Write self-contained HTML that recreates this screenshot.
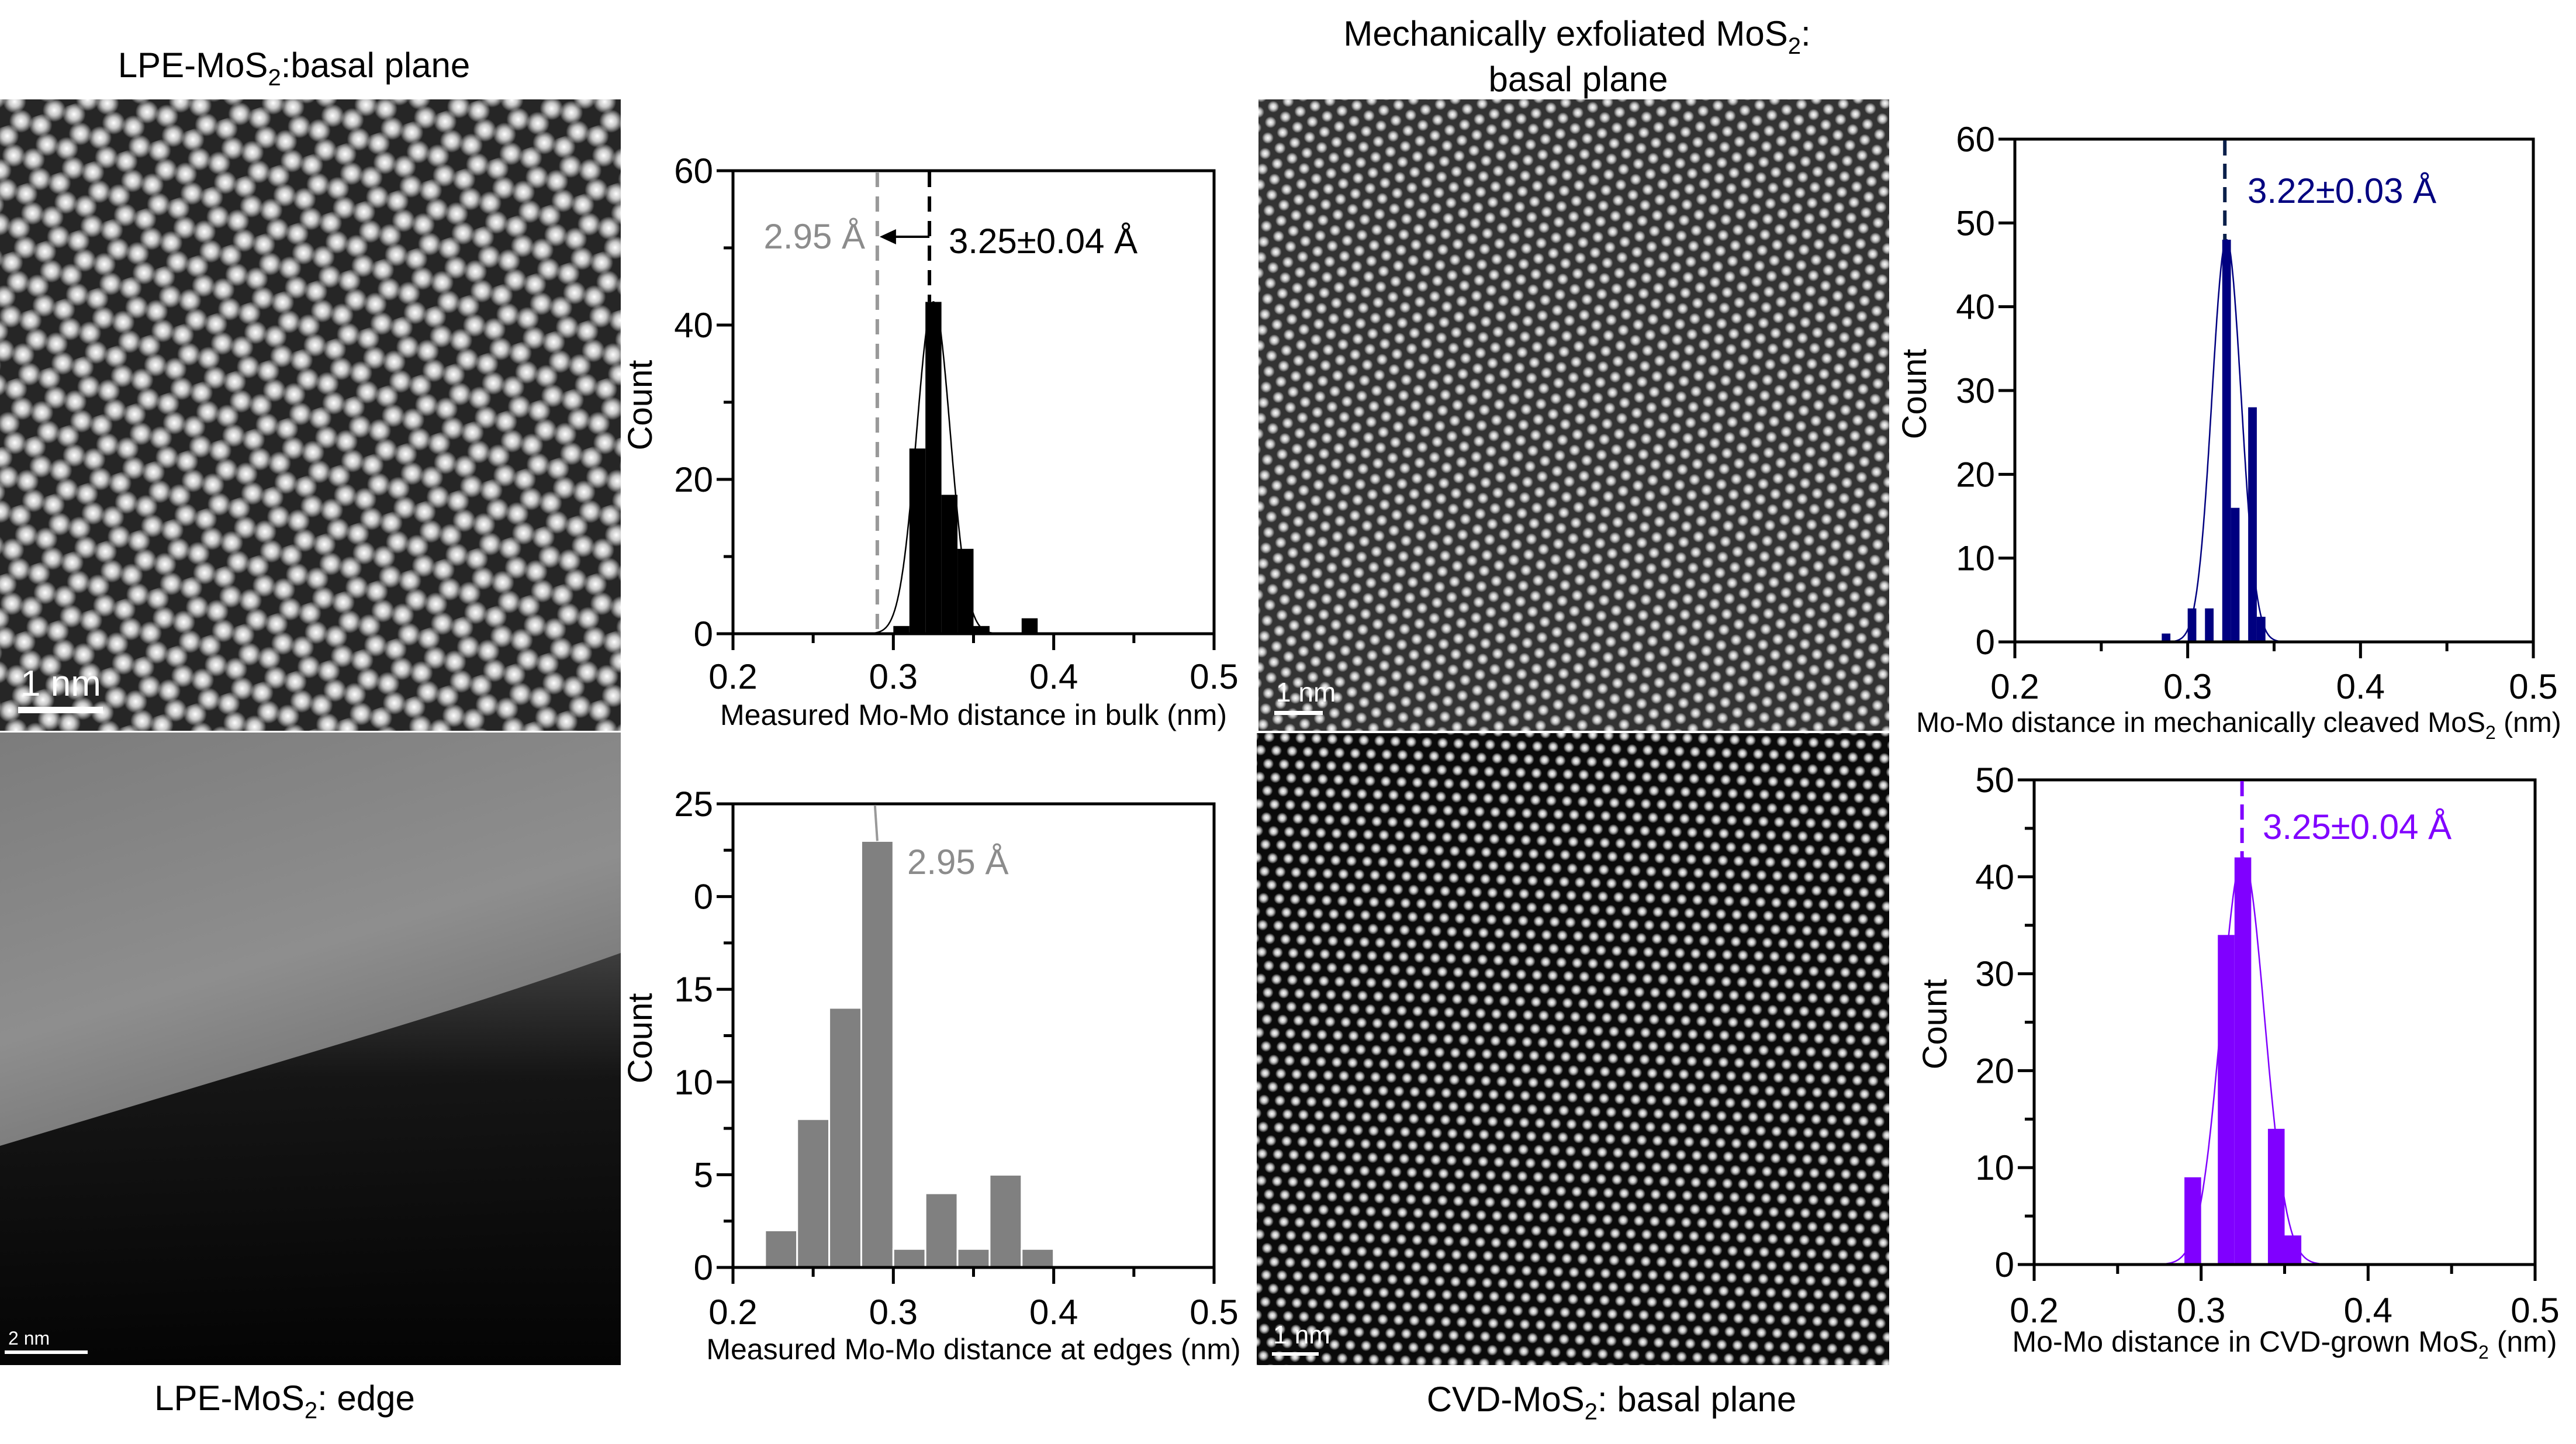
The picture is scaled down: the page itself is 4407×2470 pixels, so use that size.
<!DOCTYPE html>
<html><head><meta charset="utf-8"><style>
html,body{margin:0;padding:0;background:#fff;}
svg{display:block;font-family:"Liberation Sans",sans-serif;}
</style></head><body>
<svg id="fig" width="4407" height="2470" viewBox="0 0 4407 2470" xmlns="http://www.w3.org/2000/svg">
<defs>
<radialGradient id="spot"><stop offset="0" stop-color="#fff"/><stop offset="0.45" stop-color="#ddd" stop-opacity="0.9"/><stop offset="1" stop-color="#fff" stop-opacity="0"/></radialGradient>
<pattern id="honey" patternUnits="userSpaceOnUse" width="60" height="104" patternTransform="rotate(-18)">
<rect width="60" height="104" fill="#262626"/>
<circle cx="0" cy="17" r="20" fill="url(#spot)"/><circle cx="60" cy="17" r="20" fill="url(#spot)"/>
<circle cx="0" cy="52" r="20" fill="url(#spot)"/><circle cx="60" cy="52" r="20" fill="url(#spot)"/>
<circle cx="30" cy="69" r="20" fill="url(#spot)"/><circle cx="30" cy="104" r="20" fill="url(#spot)"/><circle cx="30" cy="0" r="20" fill="url(#spot)"/>
</pattern>
<pattern id="fine" patternUnits="userSpaceOnUse" width="27" height="47" patternTransform="rotate(-20)">
<rect width="27" height="47" fill="#333"/>
<circle cx="0" cy="0" r="10" fill="url(#spot)"/><circle cx="27" cy="0" r="10" fill="url(#spot)"/>
<circle cx="0" cy="47" r="10" fill="url(#spot)"/><circle cx="27" cy="47" r="10" fill="url(#spot)"/>
<circle cx="13.5" cy="23.5" r="10" fill="url(#spot)"/>
</pattern>
<pattern id="cvd" patternUnits="userSpaceOnUse" width="27" height="46" patternTransform="rotate(2)">
<rect width="27" height="46" fill="#0a0a0a"/>
<circle cx="13" cy="11" r="9.5" fill="url(#spot)"/>
<circle cx="0" cy="34" r="9.5" fill="url(#spot)"/><circle cx="27" cy="34" r="9.5" fill="url(#spot)"/>
</pattern>
<linearGradient id="edgeBg" x1="0" y1="0" x2="0.3" y2="1"><stop offset="0" stop-color="#7c7c7c"/><stop offset="0.45" stop-color="#8e8e8e"/><stop offset="1" stop-color="#555"/></linearGradient>
<linearGradient id="dark" x1="0" y1="0" x2="0" y2="1"><stop offset="0" stop-color="#3a3a3a"/><stop offset="0.3" stop-color="#101010"/><stop offset="1" stop-color="#000"/></linearGradient>
</defs>

<rect x="0" y="170" width="1062" height="1080" fill="url(#honey)"/>
<g>
<rect x="0" y="1253" width="1062" height="1082" fill="url(#edgeBg)"/>
<path d="M0 1960 C200 1900 400 1840 600 1780 C800 1720 950 1670 1062 1630 L1062 2335 L0 2335 Z" fill="url(#dark)" opacity="0.95"/>
</g>
<rect x="2153" y="170" width="1079" height="1080" fill="url(#fine)"/>
<rect x="2150" y="1254" width="1082" height="1081" fill="url(#cvd)"/>

<g fill="#fff"><rect x="31" y="1209" width="145" height="11"/><text x="35" y="1190" font-size="62">1 nm</text></g>
<g fill="#fff"><rect x="8" y="2310" width="142" height="6"/><text x="14" y="2300" font-size="32">2 nm</text></g>
<g fill="#fff"><rect x="2180" y="1216" width="83" height="7"/><text x="2183" y="1200" font-size="46">1 nm</text></g>
<g fill="#fff"><rect x="2176" y="2313" width="80" height="6"/><text x="2178" y="2298" font-size="44">1 nm</text></g>

<text x="503" y="132" font-size="60" text-anchor="middle">LPE-MoS<tspan font-size="40" dy="14">2</tspan><tspan dy="-14">:basal plane</tspan></text>
<text x="2698" y="78" font-size="60" text-anchor="middle">Mechanically exfoliated MoS<tspan font-size="40" dy="14">2</tspan><tspan dy="-14">:</tspan></text>
<text x="2700" y="156" font-size="60" text-anchor="middle">basal plane</text>
<text x="487" y="2412" font-size="60" text-anchor="middle">LPE-MoS<tspan font-size="40" dy="14">2</tspan><tspan dy="-14">: edge</tspan></text>
<text x="2757" y="2414" font-size="60" text-anchor="middle">CVD-MoS<tspan font-size="40" dy="14">2</tspan><tspan dy="-14">: basal plane</tspan></text>

<g id="charts"></g>
</svg>
<script>
// ---- data ----
const bulkBinStart = [0.30,0.31,0.32,0.33,0.34,0.35,0.38];
const bulkCounts   = [1,24,43,18,11,1,2];
const edgeBinStart = [0.22,0.24,0.26,0.28,0.30,0.32,0.34,0.36,0.38];
const edgeCounts   = [2,8,14,23,1,4,1,5,1];
const mechBinStart = [0.285,0.300,0.310,0.320,0.325,0.335,0.340];
const mechCounts   = [1,4,4,48,16,28,3];
const cvdBinStart  = [0.29,0.31,0.32,0.34,0.35];
const cvdCounts    = [9,34,42,14,3];
const xTickLabels  = ['0.2','0.3','0.4','0.5'];
const yLabelsBulk  = ['0','20','40','60'];
const yLabelsEdge  = ['0','5','10','15','0','25'];
const yLabelsMech  = ['0','10','20','30','40','50','60'];
const yLabelsCvd   = ['0','10','20','30','40','50'];
const bulkFit = [0.325, 0.0105, 43];
const mechFit = [0.3225, 0.0085, 48];
const cvdFit  = [0.325, 0.013, 42];

const NS='http://www.w3.org/2000/svg';
const root=document.getElementById('charts');
function el(tag,attrs,parent){const e=document.createElementNS(NS,tag);for(const k in attrs)e.setAttribute(k,attrs[k]);(parent||root).appendChild(e);return e;}

function chart(c){
  const g=el('g',{});
  
  
  const X=v=>c.L+(v-0.2)/0.3*(c.R-c.L);
  const Y=v=>c.B-v/c.ymax*(c.B-c.T);
  c.starts.forEach((s,i)=>{
    const r=el('rect',{x:X(s),y:Y(c.counts[i]),width:X(s+c.bw)-X(s),height:c.B-Y(c.counts[i]),fill:c.color,stroke:c.edge||'none','stroke-width':c.edge?3:0},g);
    
    
  });
  if(c.fit){
    const [mu,sd,A]=c.fit;let d='';
    for(let k=0;k<=300;k++){const v=mu-4*sd+k*(8*sd)/300;const y=A*Math.exp(-0.5*((v-mu)/sd)**2);d+=(k?'L':'M')+X(v).toFixed(1)+' '+Y(y).toFixed(1);}
    const p=el('path',{d:d,fill:'none',stroke:c.fitColor,'stroke-width':2.5},g);
    
    
  }
  const f=el('rect',{x:c.L,y:c.T,width:c.R-c.L,height:c.B-c.T,fill:'none',stroke:'#000','stroke-width':5},g);
  
  
  xTickLabels.forEach((t,i)=>{
    const v=0.2+i*0.1;
    el('line',{x1:X(v),x2:X(v),y1:c.B,y2:c.B+28,stroke:'#000','stroke-width':5},g);
    const tx=el('text',{x:X(v),y:c.xtly,'font-size':60,'text-anchor':'middle'},g);tx.textContent=t;
    
    
    if(i<3) el('line',{x1:X(v+0.05),x2:X(v+0.05),y1:c.B,y2:c.B+16,stroke:'#000','stroke-width':5},g);
  });
  c.ylabels.forEach((t,i)=>{
    const v=i*c.ystep;
    el('line',{x1:c.L-28,x2:c.L,y1:Y(v),y2:Y(v),stroke:'#000','stroke-width':5},g);
    const ty=el('text',{x:c.L-34,y:Y(v)+21,'font-size':60,'text-anchor':'end'},g);ty.textContent=t;
    
    
    if(c.minor && i<c.ylabels.length-1) el('line',{x1:c.L-16,x2:c.L,y1:Y(v+c.ystep/2),y2:Y(v+c.ystep/2),stroke:'#000','stroke-width':5},g);
  });
  const yl=el('text',{x:0,y:0,'font-size':58,'text-anchor':'middle',transform:`translate(${c.ylx},${c.yly}) rotate(-90)`},g);yl.textContent='Count';
  
  
  const xl=el('text',{x:c.xlx||(c.L+c.R)/2,y:c.xly,'font-size':c.xfs||50,'text-anchor':'middle'},g);xl.innerHTML=c.xtitle;
  
  
  return {g,X,Y};
}

let c1=chart({name:'bulk-histogram',L:1254,R:2077,T:292,B:1084,ymax:60,ystep:20,ylabels:yLabelsBulk,minor:true,starts:bulkBinStart,counts:bulkCounts,bw:0.01,color:'#000',fit:bulkFit,fitColor:'#000',ylx:1115,yly:693,xtly:1178,xly:1240,xtitle:'Measured Mo-Mo distance in bulk (nm)'});
const arrowY=405;
el('line',{x1:c1.X(0.29),x2:c1.X(0.29),y1:294,y2:c1.Y(0),stroke:'#999','stroke-width':6,'stroke-dasharray':'26 16'},c1.g);
el('line',{x1:c1.X(0.3225),x2:c1.X(0.3225),y1:294,y2:c1.Y(43),stroke:'#000','stroke-width':6,'stroke-dasharray':'26 16'},c1.g);
el('line',{x1:c1.X(0.3225),x2:c1.X(0.29)+22,y1:arrowY,y2:arrowY,stroke:'#000','stroke-width':4},c1.g);
el('path',{d:`M${c1.X(0.29)+4} ${arrowY} l28 -13 l0 26 z`,fill:'#000'},c1.g);
let t=el('text',{x:1480,y:arrowY+20,'font-size':60,'text-anchor':'end',fill:'#8c8c8c'},c1.g);t.textContent='2.95 Å';


t=el('text',{x:1623,y:arrowY+28,'font-size':60},c1.g);t.textContent='3.25±0.04 Å';



let c2=chart({name:'edge-histogram',L:1254,R:2077,T:1375,B:2168,ymax:25,ystep:5,ylabels:yLabelsEdge,minor:true,starts:edgeBinStart,counts:edgeCounts,bw:0.02,color:'#808080',edge:'#fff',ylx:1115,yly:1776,xtly:2265,xly:2325,xtitle:'Measured Mo-Mo distance at edges (nm)'});
el('line',{x1:c2.X(0.2885),x2:c2.X(0.29),y1:1377,y2:c2.Y(23),stroke:'#999','stroke-width':4},c2.g);
t=el('text',{x:1552,y:1495,'font-size':60,fill:'#8c8c8c'},c2.g);t.textContent='2.95 Å';



let c3=chart({name:'mechanical-histogram',L:3447,R:4334,T:238,B:1098,ymax:60,ystep:10,ylabels:yLabelsMech,minor:false,starts:mechBinStart,counts:mechCounts,bw:0.005,color:'#000080',fit:mechFit,fitColor:'#000080',ylx:3295,yly:674,xtly:1195,xly:1252,xlx:3830,xfs:48,xtitle:'Mo-Mo distance in mechanically cleaved MoS<tspan font-size="32" dy="12">2</tspan><tspan dy="-12"> (nm)</tspan>'});
el('line',{x1:c3.X(0.3215),x2:c3.X(0.3215),y1:240,y2:c3.Y(48),stroke:'#0a1f4a','stroke-width':6,'stroke-dasharray':'26 14'},c3.g);
t=el('text',{x:3845,y:347,'font-size':60,fill:'#000080'},c3.g);t.textContent='3.22±0.03 Å';



let c4=chart({name:'cvd-histogram',L:3480,R:4337,T:1334,B:2163,ymax:50,ystep:10,ylabels:yLabelsCvd,minor:true,starts:cvdBinStart,counts:cvdCounts,bw:0.01,color:'#8000ff',fit:cvdFit,fitColor:'#8000ff',ylx:3330,yly:1752,xtly:2262,xly:2312,xfs:50,xtitle:'Mo-Mo distance in CVD-grown MoS<tspan font-size="32" dy="12">2</tspan><tspan dy="-12"> (nm)</tspan>'});
el('line',{x1:c4.X(0.3245),x2:c4.X(0.3245),y1:1336,y2:c4.Y(42),stroke:'#8000ff','stroke-width':6,'stroke-dasharray':'26 14'},c4.g);
t=el('text',{x:3871,y:1435,'font-size':60,fill:'#8000ff'},c4.g);t.textContent='3.25±0.04 Å';


</script>
</body></html>
